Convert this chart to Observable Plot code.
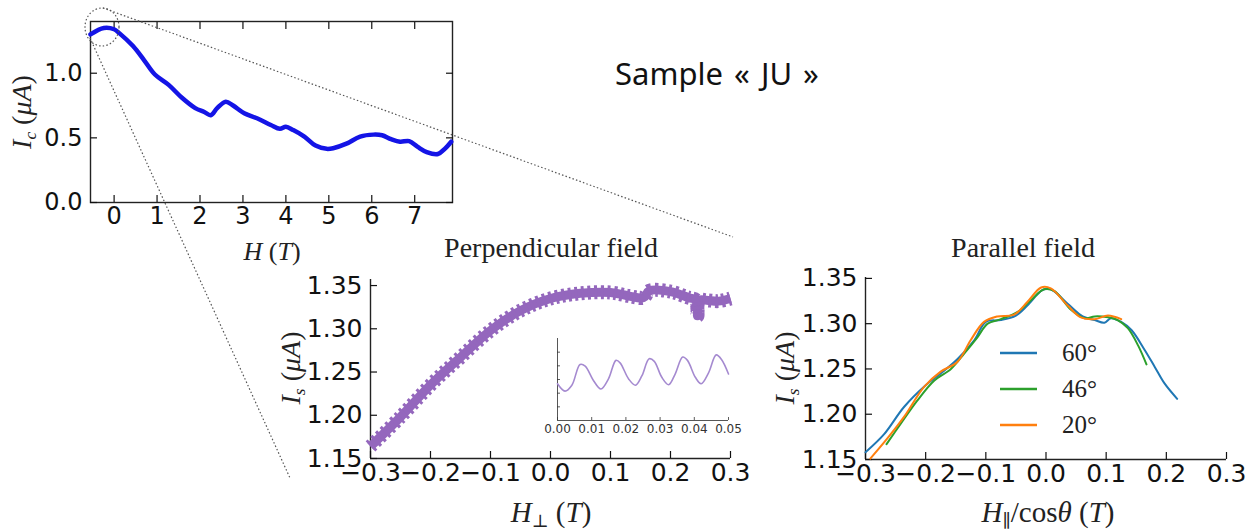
<!DOCTYPE html>
<html><head><meta charset="utf-8">
<script src="https://cdn.jsdelivr.net/npm/d3@7"></script>
<script src="https://cdn.jsdelivr.net/npm/@observablehq/plot@0.6"></script>
<style>
body{margin:0;background:#fff;}
#fig{position:relative;width:1260px;height:532px;overflow:hidden;background:#fff;}
.abs{position:absolute;}
.c{transform:translate(-50%,-50%);white-space:nowrap;}
.math{font-family:"Liberation Serif","DejaVu Serif",serif;color:#222;line-height:1;}
.math i{font-style:italic;}
.math sub{font-size:62%;vertical-align:-0.3em;line-height:0;}
.rot{transform:translate(-50%,-50%) rotate(-90deg);white-space:nowrap;}
.ttl{font-family:"Liberation Serif",serif;font-size:28px;color:#222;}
svg{overflow:visible;}
</style></head><body><div id="fig"></div>
<script>
// ---------- data ----------
const overviewH  = [-0.55,-0.24,0,0.12,0.44,0.7,0.95,1.27,1.58,1.89,2.1,2.25,2.4,2.6,2.77,3.03,3.34,3.65,3.86,4.0,4.17,4.43,4.69,4.95,5.1,5.41,5.73,6.04,6.24,6.45,6.66,6.87,7.07,7.28,7.54,7.7,7.85];
const overviewIc = [1.30,1.35,1.34,1.31,1.21,1.10,0.99,0.91,0.81,0.73,0.70,0.675,0.73,0.78,0.75,0.69,0.65,0.60,0.57,0.585,0.56,0.51,0.44,0.415,0.42,0.455,0.51,0.525,0.52,0.49,0.47,0.475,0.43,0.39,0.375,0.415,0.47];
const overviewXTicks = [0,1,2,3,4,5,6,7];
const overviewYTicks = [0,0.5,1.0];

const perpH  = [-0.3,-0.25,-0.2,-0.15,-0.1,-0.05,0,0.05,0.1,0.13,0.155,0.165,0.2,0.23,0.243,0.245,0.247,0.26,0.28,0.3];
const perpIs = [1.164,1.198,1.235,1.267,1.298,1.321,1.335,1.341,1.342,1.338,1.336,1.344,1.343,1.336,1.333,1.315,1.333,1.333,1.332,1.335];

const insetH  = [0,0.0022,0.0042,0.0066,0.0081,0.0105,0.0127,0.0149,0.0171,0.0183,0.0208,0.0228,0.0247,0.0268,0.0283,0.0305,0.0325,0.0344,0.0366,0.038,0.0403,0.042,0.0442,0.0464,0.048,0.05];
const insetIs = [2.69,2.15,2.58,4.10,3.98,2.93,2.30,3.04,4.40,4.22,3.04,2.58,3.28,4.52,4.33,3.16,2.62,3.40,4.64,4.40,3.16,2.69,3.51,4.80,4.45,3.40];
const insetXTicks = [0,0.01,0.02,0.03,0.04,0.05];
const insetYTicks = [1,2,3,4,5];

const par60H  = [-0.3,-0.269,-0.236,-0.2,-0.175,-0.147,-0.119,-0.1,-0.075,-0.05,-0.031,-0.006,0.008,0.036,0.061,0.081,0.097,0.108,0.125,0.142,0.164,0.181,0.197,0.218];
const par60Is = [1.158,1.178,1.208,1.232,1.245,1.261,1.282,1.302,1.304,1.309,1.32,1.337,1.338,1.322,1.308,1.304,1.301,1.306,1.302,1.293,1.271,1.252,1.234,1.217];
const par46H  = [-0.265,-0.242,-0.214,-0.186,-0.158,-0.136,-0.114,-0.097,-0.075,-0.047,-0.025,-0.003,0.014,0.042,0.064,0.081,0.103,0.119,0.136,0.153,0.167];
const par46Is = [1.167,1.189,1.215,1.237,1.25,1.267,1.285,1.30,1.305,1.313,1.326,1.338,1.336,1.315,1.306,1.308,1.307,1.304,1.295,1.276,1.255];
const par20H  = [-0.292,-0.264,-0.236,-0.203,-0.175,-0.147,-0.125,-0.103,-0.081,-0.053,-0.031,-0.008,0.008,0.036,0.058,0.081,0.103,0.125];
const par20Is = [1.151,1.173,1.197,1.23,1.247,1.258,1.282,1.302,1.308,1.31,1.324,1.34,1.339,1.32,1.307,1.305,1.309,1.305];
const angleLabels = ["60°","46°","20°"];
const angleColors = ["#1f77b4","#2ca02c","#ff7f0e"];

const fieldXTicks = [-0.3,-0.2,-0.1,0,0.1,0.2,0.3];
const fieldYTicks = [1.15,1.20,1.25,1.30,1.35];

// ---------- helpers ----------
const fig = document.getElementById("fig");
function place(el, left, top){ el.style.position="absolute"; el.style.left=left+"px"; el.style.top=top+"px"; fig.appendChild(el); return el; }
function html(str, left, top, cls, extra){ const d=document.createElement("div"); d.className="abs "+cls; d.innerHTML=str; d.style.left=left+"px"; d.style.top=top+"px"; if(extra) Object.assign(d.style, extra); fig.appendChild(d); return d; }
const zip = (xs, ys, kx, ky) => xs.map((x,i)=>({[kx]:x,[ky]:ys[i]}));
const big = {fontFamily:"DejaVu Sans", fontSize:"25px", color:"#111", background:"transparent", overflow:"visible"};
const blank = () => "";

// ---------- overview (top-left) ----------
const overview = zip(overviewH, overviewIc, "H", "Ic");
place(Plot.plot({
  width:460, height:258, marginLeft:90, marginRight:8, marginTop:21, marginBottom:56,
  x:{domain:[-0.55,7.88]}, y:{domain:[0,1.40]}, style:{...big, fontSize:"24px"},
  marks:[
    Plot.frame({stroke:"#222", strokeWidth:1.4}),
    Plot.axisX(overviewXTicks,{anchor:"bottom", tickSize:-7, tickPadding:11, label:null, strokeWidth:1.2}),
    Plot.axisX(overviewXTicks,{anchor:"top", tickSize:-7, tickFormat:blank, label:null, strokeWidth:1.2}),
    Plot.axisY(overviewYTicks,{anchor:"left", tickSize:-7, tickPadding:15, tickFormat:d3.format(".1f"), label:null, strokeWidth:1.2}),
    Plot.axisY(overviewYTicks,{anchor:"right", tickSize:-7, tickFormat:blank, label:null, strokeWidth:1.2}),
    Plot.line(overview,{x:"H", y:"Ic", stroke:"#1414e6", strokeWidth:4.5, curve:"catmull-rom"})
  ]
}), 0, 0);

// ---------- perpendicular field ----------
const perp = zip(perpH, perpIs, "H", "Is");
place(Plot.plot({
  width:450, height:270, marginLeft:80, marginRight:10, marginTop:19, marginBottom:72,
  x:{domain:[-0.3,0.3]}, y:{domain:[1.15,1.357]}, style:big,
  marks:[
    Plot.ruleX([-0.3],{stroke:"#222", strokeWidth:1.4}),
    Plot.ruleY([1.15],{stroke:"#222", strokeWidth:1.4}),
    Plot.axisX(fieldXTicks,{tickSize:-7, tickPadding:12, tickFormat:d3.format(".1f"), label:null, strokeWidth:1.2}),
    Plot.axisY(fieldYTicks,{tickSize:-7, tickPadding:15, tickFormat:d3.format(".2f"), label:null, strokeWidth:1.2}),
    Plot.line(perp,{x:"H", y:"Is", stroke:"#9467bd", strokeWidth:9, strokeLinecap:"butt", curve:"catmull-rom"}),
    Plot.line(perp,{x:"H", y:"Is", stroke:"#9467bd", strokeWidth:14, strokeLinecap:"butt", strokeDasharray:"3,3.5", curve:"catmull-rom"})
  ]
}), 290, 260);

// ---------- inset ----------
const inset = zip(insetH, insetIs, "H", "Is");
place(Plot.plot({
  width:210, height:110, marginLeft:27, marginRight:12, marginTop:8, marginBottom:20,
  x:{domain:[0,0.05]}, y:{domain:[0,6]},
  style:{fontFamily:"DejaVu Sans", fontSize:"12px", color:"#333", background:"transparent", overflow:"visible"},
  marks:[
    Plot.ruleX([0],{stroke:"#444", strokeWidth:0.9}),
    Plot.ruleY([0],{stroke:"#444", strokeWidth:0.9}),
    Plot.axisX(insetXTicks,{tickSize:-3, tickPadding:7, tickFormat:d3.format(".2f"), label:null, strokeWidth:0.8}),
    Plot.axisY(insetYTicks,{tickSize:-3, tickFormat:blank, label:null, strokeWidth:0.8}),
    Plot.line(inset,{x:"H", y:"Is", stroke:"#a58ad0", strokeWidth:1.6, curve:"catmull-rom"})
  ]
}), 530, 330);

// ---------- parallel field ----------
const par = [
  ...zip(par60H, par60Is, "H", "Is").map(d=>({...d, angle:angleLabels[0]})),
  ...zip(par46H, par46Is, "H", "Is").map(d=>({...d, angle:angleLabels[1]})),
  ...zip(par20H, par20Is, "H", "Is").map(d=>({...d, angle:angleLabels[2]}))
];
place(Plot.plot({
  width:470, height:272, marginLeft:85, marginRight:24, marginTop:19, marginBottom:71,
  x:{domain:[-0.3,0.3]}, y:{domain:[1.15,1.351]}, style:big,
  color:{domain:angleLabels, range:angleColors},
  marks:[
    Plot.ruleX([-0.3],{stroke:"#222", strokeWidth:1.4}),
    Plot.ruleY([1.15],{stroke:"#222", strokeWidth:1.4}),
    Plot.axisX(fieldXTicks,{tickSize:-7, tickPadding:12, tickFormat:d3.format(".1f"), label:null, strokeWidth:1.2}),
    Plot.axisY(fieldYTicks,{tickSize:-7, tickPadding:15, tickFormat:d3.format(".2f"), label:null, strokeWidth:1.2}),
    Plot.line(par,{x:"H", y:"Is", z:"angle", stroke:"angle", strokeWidth:2, curve:"catmull-rom"})
  ]
}), 780, 258);

// legend
angleLabels.forEach((lab,i)=>{
  const y = [352,388,424][i];
  html(`<svg width="37" height="4"><line x1="0" y1="2" x2="37" y2="2" stroke="${angleColors[i]}" stroke-width="2.5"/></svg>`, 1000, y-2, "", {lineHeight:"0"});
  html(lab, 1062, y, "math", {fontSize:"25px", transform:"translateY(-50%)"});
});

// ---------- texts ----------
html("Sample « JU »", 717, 73, "c", {fontFamily:"'Noto Sans',sans-serif", fontSize:"31px", color:"#111", wordSpacing:"3px"});
html("Perpendicular field", 551, 248, "c ttl");
html("Parallel field", 1023, 248, "c ttl");
html("<i>H</i><sub>⊥</sub>&nbsp;(<i>T</i>)", 551, 512, "c math", {fontSize:"29px"});
html("<i>H</i><sub>∥</sub>/cos<i>θ</i>&nbsp;(<i>T</i>)", 1048, 512, "c math", {fontSize:"29px"});
html("<i>I</i><sub><i>s</i></sub>&nbsp;(<i>μA</i>)", 291, 368, "rot math", {fontSize:"28px"});
html("<i>I</i><sub><i>s</i></sub>&nbsp;(<i>μA</i>)", 785, 368, "rot math", {fontSize:"28px"});
html("<i>I</i><sub><i>c</i></sub>&nbsp;(<i>μA</i>)", 22, 112, "rot math", {fontSize:"28px"});
html("<i>H</i>&nbsp;(<i>T</i>)", 272, 252, "c math", {fontSize:"26px"});

// ---------- zoom guides (annotation) ----------
const ov = document.createElementNS("http://www.w3.org/2000/svg","svg");
ov.setAttribute("width","1260"); ov.setAttribute("height","532");
ov.style.pointerEvents="none";
ov.innerHTML = `<g fill="none" stroke="#555" stroke-width="1.2" stroke-dasharray="1.5,2.2">
<ellipse cx="102" cy="27" rx="17" ry="19"/>
<line x1="103" y1="8" x2="733" y2="237"/>
<line x1="90" y1="38" x2="290" y2="478"/></g>`;
place(ov,0,0);
</script></body></html>
